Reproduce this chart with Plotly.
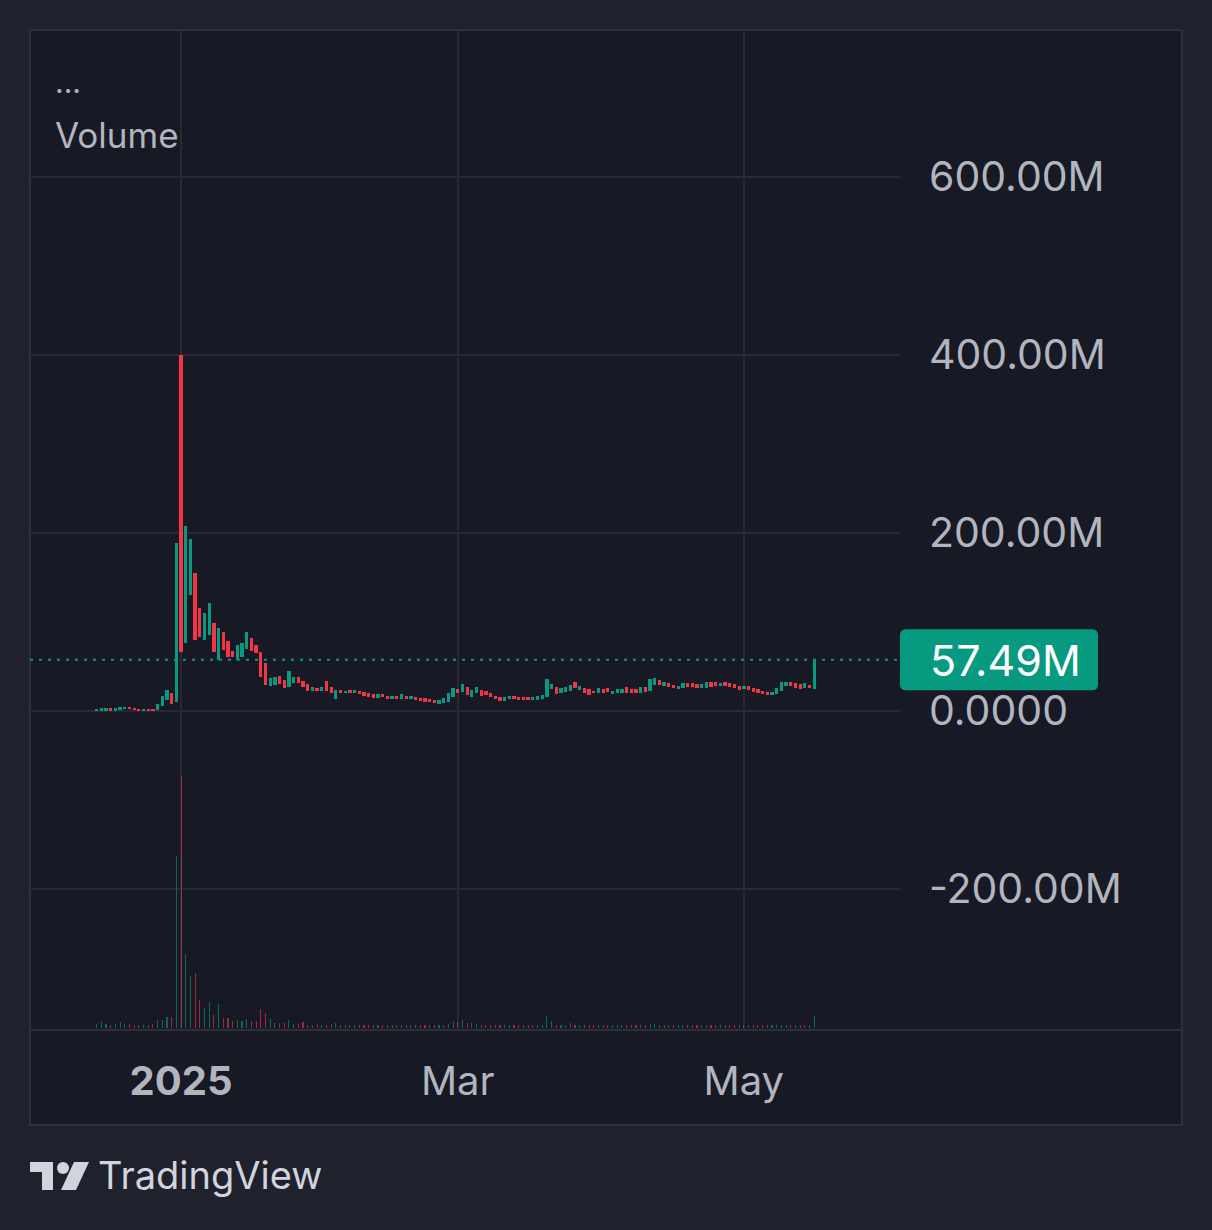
import pandas as pd
import plotly.graph_objects as go

# ---------------- data ----------------
START_DATE = "2024-12-14"
N_DAYS = 154

OPEN = [
    0.5, 1.0, 1.0, 3.0, 1.0, 1.5, 2.0, 4.8, 3.5, 2.5,
    0.5, 2.5, 2.5, 1.1, 5.6, 12.4, 20.6, 10.5, 400, 76.7,
    130.3, 154.7, 115.4, 79.8, 85.4, 98.5, 57.3, 88.4, 78.7, 67.8,
    57.3, 61, 70, 82, 74, 66, 54, 28, 29, 39.3,
    34.8, 26.6, 31, 38.6, 33.7, 30.3, 22.8, 25.5, 22.8, 34,
    27.3, 13.1, 23.6, 19.8, 23.6, 19.8, 22.4, 21.7, 19.8, 19,
    14.2, 19, 16.9, 13.1, 16.9, 13.1, 16.9, 13.1, 16, 15,
    14.2, 13.5, 12.4, 7.9, 8.6, 10.5, 16, 24.4, 21.7, 27.3,
    16, 20.6, 23.6, 22.8, 19.8, 16.9, 15.4, 11.6, 13.1, 16.9,
    15.4, 16, 15.4, 12, 12.4, 13.5, 15.4, 24.4, 27.3, 19.8,
    21.7, 22.8, 32.2, 23.6, 26.2, 24.4, 22.8, 19.8, 24.4, 25.5,
    19, 20.6, 20.6, 27.3, 24.7, 24.7, 20.6, 27.3, 22.8, 29.6,
    34.8, 28.5, 31.1, 29.2, 24.4, 25.5, 31.1, 31.1, 30, 25.5,
    25.5, 33, 32.2, 28.1, 33, 31.1, 30, 28.1, 24.4, 28.1,
    26.2, 24.4, 22.8, 21.7, 18, 19, 22.8, 28.5, 33, 31.1,
    30, 25.5, 29.2, 24.4,
]
CLOSE = [
    2.5, 3.0, 3.0, 1.0, 3.0, 4.5, 4.8, 2.0, 1.5, 0.5,
    2.5, 0.5, 0.5, 7.5, 16.9, 23.6, 7.9, 188.8, 66.6, 207.9,
    192.9, 79.8, 83.5, 109.7, 121, 66.6, 92.9, 69, 61, 60.3,
    74.2, 76, 89, 67, 65, 38.6, 29, 37.5, 38.6, 30.3,
    25.5, 45.3, 37.8, 31, 26.6, 22.8, 27.3, 22.8, 26.6, 22.8,
    20.6, 23.6, 19.8, 22.8, 19.8, 23.6, 19, 16.9, 15.4, 14.2,
    19, 15.4, 13.1, 16.9, 13.1, 19, 13.1, 16.9, 12, 11.2,
    10.5, 9.7, 8.6, 12.4, 14.2, 19.8, 25.5, 19.8, 30.3, 18,
    23.6, 27.3, 16.9, 18, 16, 13.1, 11.6, 16, 16.9, 13.9,
    12, 12.4, 12, 16, 16.9, 18, 36, 30.3, 19, 25.5,
    27.3, 29.2, 25.5, 28.1, 19.8, 18, 19.8, 26.2, 19.8, 21.7,
    22.8, 24.7, 24.7, 20.6, 20.6, 20.6, 27.3, 21.7, 36, 37.5,
    29.2, 32.2, 27.3, 25.5, 28.1, 31.8, 27.3, 27.3, 25.5, 30,
    33, 27.3, 28.1, 31.8, 28.1, 27.3, 25.5, 23.6, 28.1, 23.6,
    21.7, 19.8, 19, 18, 21.7, 25.5, 33, 33, 28.5, 25.5,
    24.7, 31.8, 25.5, 57.49,
]
VOLUME = [
    16, 27, 16, 12, 16, 24, 16, 16, 12, 11,
    12, 12, 16, 33, 33, 43, 43, 687, 1007, 296,
    207, 220, 113, 80, 103, 53, 96, 40, 40, 27,
    33, 29, 36, 29, 27, 76, 60, 36, 20, 20,
    20, 33, 17, 16, 23, 14, 14, 16, 12, 14,
    16, 20, 14, 12, 14, 12, 12, 14, 12, 12,
    14, 12, 12, 12, 12, 14, 12, 12, 12, 12,
    12, 12, 12, 14, 14, 16, 27, 23, 33, 20,
    20, 17, 14, 12, 12, 12, 12, 12, 14, 12,
    12, 12, 12, 12, 12, 14, 47, 27, 14, 12,
    14, 20, 14, 12, 12, 12, 12, 14, 12, 12,
    12, 12, 14, 14, 12, 12, 12, 14, 16, 16,
    12, 12, 12, 12, 12, 12, 12, 12, 12, 12,
    12, 12, 12, 12, 12, 12, 12, 12, 12, 12,
    12, 12, 12, 12, 12, 14, 12, 12, 12, 12,
    12, 12, 12, 47,
]
LAST_VALUE = 57.49
LAST_LABEL = "57.49M"
Y_TICKS = [-200, 0, 200, 400, 600]
Y_TICK_TEXT = ["-200.00M", "0.0000", "200.00M", "400.00M", "600.00M"]
X_TICKS = ["2025-01-01", "2025-03-01", "2025-05-01"]
X_TICK_TEXT = ["<b>2025</b>", "Mar", "May"]

# ---------------- style ----------------
UP = "#089981"
DOWN = "#f23645"
UP_VOL = "rgba(8,153,129,0.6)"
DOWN_VOL = "rgba(242,54,69,0.6)"
OUTER_BG = "#1f212c"
INNER_BG = "#171a25"
BORDER = "#2d303b"
GRID = "#272a36"
TEXT = "#b2b5be"
FONT = "Inter, Roboto, sans-serif"
DAY_MS = 86400000

W, H = 1212, 1230
L, R, T, B = 30, 312, 30, 200
PW, PH = W - L - R, H - T - B
Y_RANGE = [-358.4, 765.2]
X_RANGE = ["2024-11-29 19:00", "2025-06-03 07:00"]


def px(x):
    return (x - L) / PW


def py(y):
    return (H - B - y) / PH


dates = pd.date_range(START_DATE, periods=N_DAYS, freq="D")
up = [c >= o for o, c in zip(OPEN, CLOSE)]
body_base = [min(o, c) for o, c in zip(OPEN, CLOSE)]
body_len = [abs(c - o) for o, c in zip(OPEN, CLOSE)]

fig = go.Figure()
fig.add_trace(go.Bar(
    x=dates, y=VOLUME, yaxis="y2",
    width=0.24 * DAY_MS,
    marker=dict(color=[UP_VOL if u else DOWN_VOL for u in up], line=dict(width=0)),
    hoverinfo="skip", showlegend=False,
))
fig.add_trace(go.Bar(
    x=dates, y=body_len, base=body_base,
    width=0.7 * DAY_MS,
    marker=dict(color=[UP if u else DOWN for u in up], line=dict(width=0)),
    showlegend=False,
))

shapes = [
    # chart frame
    dict(type="rect", xref="paper", yref="paper", x0=px(30), x1=px(1182),
         y0=py(1125), y1=py(30), fillcolor=INNER_BG,
         line=dict(color=BORDER, width=2), layer="below"),
    # time axis separator
    dict(type="line", xref="paper", yref="paper", x0=px(30), x1=px(1182),
         y0=0, y1=0, line=dict(color=BORDER, width=2)),
    # last value dotted line
    dict(type="line", xref="paper", yref="y", x0=0, x1=1, y0=LAST_VALUE, y1=LAST_VALUE,
         line=dict(color=UP, width=2, dash="3px,6px")),
]

# rounded last-value label box
mpp = (Y_RANGE[1] - Y_RANGE[0]) / PH
x0b, x1b = px(900), px(1098)
hy = 30.5 * mpp
y0b, y1b = LAST_VALUE - hy, LAST_VALUE + hy
rx, ry = 6 / PW, 6 * mpp
path = (f"M {x0b + rx},{y0b} L {x1b - rx},{y0b} Q {x1b},{y0b} {x1b},{y0b + ry} "
        f"L {x1b},{y1b - ry} Q {x1b},{y1b} {x1b - rx},{y1b} "
        f"L {x0b + rx},{y1b} Q {x0b},{y1b} {x0b},{y1b - ry} "
        f"L {x0b},{y0b + ry} Q {x0b},{y0b} {x0b + rx},{y0b} Z")
shapes.append(dict(type="path", xref="paper", yref="y", path=path,
                   fillcolor=UP, line=dict(width=0), layer="above"))

# TradingView logo
LOGO = "#d1d4dc"
shapes += [
    dict(type="rect", xref="paper", yref="paper", x0=px(30), x1=px(53),
         y0=py(1172), y1=py(1162), fillcolor=LOGO, line=dict(width=0)),
    dict(type="rect", xref="paper", yref="paper", x0=px(42), x1=px(53),
         y0=py(1190), y1=py(1162), fillcolor=LOGO, line=dict(width=0)),
    dict(type="circle", xref="paper", yref="paper", x0=px(57), x1=px(69),
         y0=py(1174), y1=py(1162), fillcolor=LOGO, line=dict(width=0)),
    dict(type="path", xref="paper", yref="paper",
         path=f"M {px(74)},{py(1162)} L {px(89)},{py(1162)} L {px(76)},{py(1190)} L {px(61)},{py(1190)} Z",
         fillcolor=LOGO, line=dict(width=0)),
]

annotations = [
    dict(xref="paper", yref="y", x=px(928), y=LAST_VALUE, text=LAST_LABEL,
         xanchor="left", yanchor="middle", showarrow=False,
         font=dict(family=FONT, size=43, color="#ffffff")),
    dict(xref="paper", yref="paper", x=px(53), y=py(135), text="Volume",
         xanchor="left", yanchor="middle", showarrow=False,
         font=dict(family=FONT, size=35, color=TEXT)),
    dict(xref="paper", yref="paper", x=px(53), y=py(82), text="...",
         xanchor="left", yanchor="middle", showarrow=False,
         font=dict(family=FONT, size=30, color=TEXT)),
    dict(xref="paper", yref="paper", x=px(96), y=py(1175), text="TradingView",
         xanchor="left", yanchor="middle", showarrow=False,
         font=dict(family=FONT, size=38, color=LOGO)),
]

fig.update_layout(
    width=W, height=H,
    margin=dict(l=L, r=R, t=T, b=B, pad=0),
    paper_bgcolor=OUTER_BG, plot_bgcolor="rgba(0,0,0,0)",
    bargap=0, barmode="overlay",
    font=dict(family=FONT, color=TEXT),
    xaxis=dict(type="date", range=X_RANGE, tickvals=X_TICKS, ticktext=X_TICK_TEXT,
               showgrid=True, gridcolor=GRID, gridwidth=2, zeroline=False,
               showline=False, ticks="", tickfont=dict(size=40, color=TEXT, family=FONT),
               ticklabelstandoff=24, fixedrange=True),
    yaxis=dict(range=Y_RANGE, side="right", tickvals=Y_TICKS, ticktext=Y_TICK_TEXT,
               showgrid=True, gridcolor=GRID, gridwidth=2, zeroline=False,
               showline=False, ticks="", tickfont=dict(size=41, color=TEXT, family=FONT),
               ticklabelstandoff=28, fixedrange=True),
    yaxis2=dict(overlaying="y", range=[-8, 3992], visible=False, showgrid=False,
                fixedrange=True),
    shapes=shapes, annotations=annotations,
    showlegend=False,
)

fig.write_html(
    "out.html",
    config={"displayModeBar": False},
    post_script=("document.body.style.margin='0';"
                 "document.body.style.padding='0';"
                 "document.body.style.overflow='hidden';"
                 "document.body.style.background='" + OUTER_BG + "';"),
)
